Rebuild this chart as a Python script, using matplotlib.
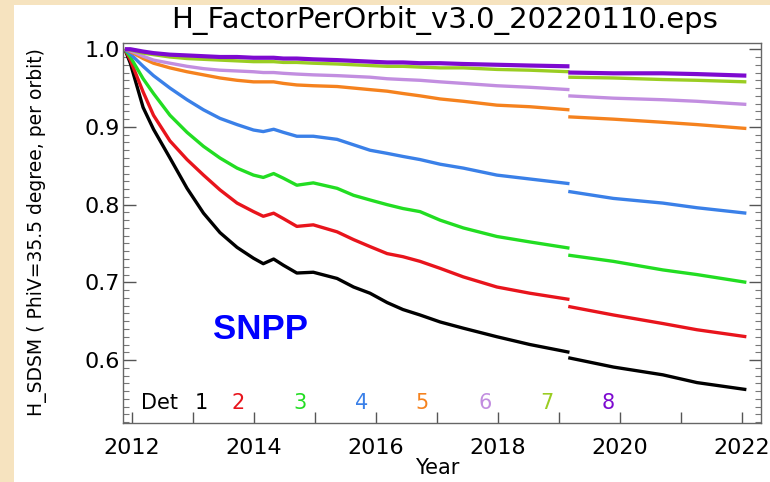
import matplotlib
matplotlib.use("Agg")
import matplotlib.pyplot as plt
from matplotlib.patches import Rectangle
from matplotlib.ticker import MultipleLocator, FixedLocator, FormatStrFormatter

# years before and after the 2019 step
years_a = [2011.88, 2011.97, 2012.18, 2012.35, 2012.62, 2012.90, 2013.17, 2013.44,
           2013.72, 2013.99, 2014.15, 2014.32, 2014.48, 2014.70, 2014.97, 2015.36,
           2015.63, 2015.90, 2016.18, 2016.44, 2016.72, 2017.05, 2017.43, 2017.98,
           2018.52, 2019.17]
years_b = [2019.15, 2019.89, 2020.70, 2021.26, 2022.07]

det1_a = [1.0, 0.982, 0.925, 0.897, 0.860, 0.821, 0.789, 0.764, 0.745, 0.731, 0.724,
          0.730, 0.722, 0.712, 0.713, 0.705, 0.694, 0.686, 0.674, 0.665, 0.658, 0.649,
          0.641, 0.630, 0.620, 0.610]
det1_b = [0.603, 0.591, 0.581, 0.571, 0.562]
det2_a = [1.0, 0.986, 0.945, 0.915, 0.882, 0.858, 0.838, 0.819, 0.802, 0.791, 0.785,
          0.789, 0.782, 0.772, 0.774, 0.765, 0.755, 0.746, 0.737, 0.733, 0.727, 0.718,
          0.707, 0.694, 0.686, 0.678]
det2_b = [0.669, 0.658, 0.647, 0.639, 0.630]
det3_a = [1.0, 0.990, 0.962, 0.943, 0.915, 0.893, 0.875, 0.860, 0.847, 0.838, 0.835,
          0.840, 0.834, 0.825, 0.828, 0.821, 0.812, 0.806, 0.800, 0.795, 0.791, 0.780,
          0.770, 0.759, 0.752, 0.744]
det3_b = [0.735, 0.727, 0.716, 0.710, 0.700]
det4_a = [1.0, 0.994, 0.978, 0.966, 0.950, 0.935, 0.922, 0.911, 0.903, 0.896, 0.894,
          0.897, 0.893, 0.888, 0.888, 0.884, 0.877, 0.870, 0.866, 0.862, 0.858, 0.852,
          0.847, 0.838, 0.833, 0.827]
det4_b = [0.817, 0.808, 0.802, 0.796, 0.789]
det5_a = [1.0, 0.997, 0.988, 0.982, 0.976, 0.971, 0.967, 0.963, 0.960, 0.958, 0.958,
          0.958, 0.956, 0.954, 0.953, 0.952, 0.950, 0.948, 0.946, 0.943, 0.940, 0.936,
          0.933, 0.928, 0.926, 0.922]
det5_b = [0.913, 0.910, 0.906, 0.903, 0.898]
det6_a = [1.0, 0.998, 0.991, 0.986, 0.982, 0.978, 0.975, 0.973, 0.972, 0.971, 0.970,
          0.970, 0.969, 0.968, 0.967, 0.966, 0.965, 0.964, 0.962, 0.961, 0.960, 0.958,
          0.956, 0.953, 0.951, 0.948]
det6_b = [0.940, 0.937, 0.935, 0.933, 0.929]
det7_a = [1.0, 0.999, 0.995, 0.993, 0.990, 0.988, 0.987, 0.986, 0.985, 0.984, 0.984,
          0.984, 0.983, 0.983, 0.982, 0.981, 0.980, 0.979, 0.978, 0.978, 0.977, 0.976,
          0.976, 0.974, 0.973, 0.971]
det7_b = [0.964, 0.963, 0.961, 0.960, 0.958]
det8_a = [1.0, 1.0, 0.997, 0.995, 0.993, 0.992, 0.991, 0.990, 0.990, 0.989, 0.989,
          0.989, 0.988, 0.988, 0.987, 0.986, 0.985, 0.984, 0.983, 0.983, 0.982, 0.982,
          0.981, 0.980, 0.979, 0.978]
det8_b = [0.970, 0.969, 0.969, 0.968, 0.966]

det_names = ["1", "2", "3", "4", "5", "6", "7", "8"]
label_years = [2013.14, 2013.73, 2014.75, 2015.76, 2016.76, 2017.78, 2018.80, 2019.81]
colors = ["#000000", "#e8141c", "#22dd22", "#3a80e8", "#f5821e", "#c28ee0", "#9acd22", "#7d0ad0"]

series_a = [det1_a, det2_a, det3_a, det4_a, det5_a, det6_a, det7_a, det8_a]
series_b = [det1_b, det2_b, det3_b, det4_b, det5_b, det6_b, det7_b, det8_b]

fig = plt.figure(figsize=(7.7, 4.82), dpi=100, facecolor="#f6e3bf")
fig.patches.append(Rectangle((14 / 770, 0), 1, 1 - 5 / 482, transform=fig.transFigure,
                             facecolor="white", edgecolor="none", zorder=-10))
ax = fig.add_axes([123 / 770, 59 / 482, 638 / 770, 380 / 482])
ax.set_zorder(1)

for i in range(8):
    lw = 3.0 if i == 7 else 2.4
    ax.plot(years_a, series_a[i], color=colors[i], lw=lw, solid_capstyle="butt")
    ax.plot(years_b, series_b[i], color=colors[i], lw=lw, solid_capstyle="butt")

ax.set_xlim(2011.85, 2022.31)
ax.set_ylim(0.519, 1.008)

ax.xaxis.set_major_locator(FixedLocator(list(range(2012, 2023))))
ax.set_xticklabels([str(y) if y % 2 == 0 else "" for y in range(2012, 2023)])
ax.yaxis.set_major_locator(MultipleLocator(0.1))
ax.yaxis.set_minor_locator(MultipleLocator(0.01))
ax.yaxis.set_major_formatter(FormatStrFormatter("%.1f"))
ax.tick_params(axis="x", direction="in", length=8, width=1, color="#555555",
               labelsize=16, pad=11, top=False)
ax.tick_params(axis="y", which="major", direction="in", length=9, width=1, color="#555555",
               labelsize=16, pad=2, right=True)
ax.tick_params(axis="y", which="minor", direction="in", length=4, width=0.8, color="#777777",
               right=True)
for s in ax.spines.values():
    s.set_color("#666666")
    s.set_linewidth(1)

ax.text(2012.14, 0.545, "Det", fontsize=15, ha="left", va="center")
for i in range(8):
    ax.text(label_years[i], 0.545, det_names[i], color=colors[i], fontsize=15,
            ha="center", va="center")

ax.text(2014.1, 0.639, "SNPP", color="#0000ff", fontsize=25, fontweight="bold",
        family="Liberation Sans", ha="center", va="center")

fig.text(0.578, 0.958, "H_FactorPerOrbit_v3.0_20220110.eps", fontsize=21,
         ha="center", va="center")
fig.text(0.5675, 0.029, "Year", fontsize=15, ha="center", va="center")
fig.text(0.048, 0.519, "H_SDSM ( PhiV=35.5 degree, per orbit)", fontsize=13.5,
         rotation=90, ha="center", va="center")

fig.savefig("out.png", dpi=100, facecolor=fig.get_facecolor())
